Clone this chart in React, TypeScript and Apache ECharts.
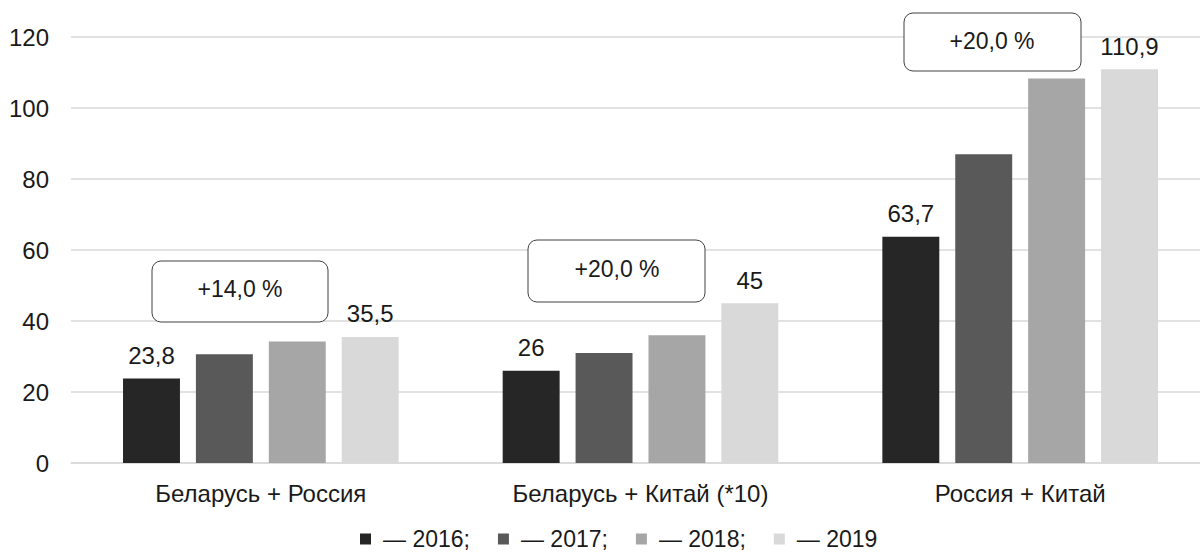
import React, { useEffect, useRef } from "react";
import * as echarts from "echarts";

const categories = ["Беларусь + Россия", "Беларусь + Китай (*10)", "Россия + Китай"];
const years = ["2016", "2017", "2018", "2019"];
const legendLabels = ["— 2016;", "— 2017;", "— 2018;", "— 2019"];
const values2016 = [23.8, 26, 63.7];
const values2017 = [30.6, 31, 87.0];
const values2018 = [34.2, 36, 108.3];
const values2019 = [35.5, 45, 110.9];
const seriesValues = [values2016, values2017, values2018, values2019];
const labeledYears = ["2016", "2019"];
const colors = ["#262626", "#595959", "#a6a6a6", "#d9d9d9"];
const growthTexts = ["+14,0 %", "+20,0 %", "+20,0 %"];
const yTicks = { min: 0, max: 120, interval: 20 };

const FONT = "'Liberation Sans', Arial, sans-serif";

export default function App() {
  const ref = useRef<HTMLDivElement>(null);
  useEffect(() => {
    document.body.style.margin = "0";
    if (!ref.current) return;
    const chart = echarts.init(ref.current, null, { renderer: "svg" });
    const boxes = [
      { x: 152, y: 261, w: 176, h: 61, tx: 240, ty: 289 },
      { x: 528, y: 240, w: 177, h: 62, tx: 617, ty: 269 },
      { x: 904, y: 13, w: 177, h: 58, tx: 992, ty: 41 },
    ];
    const graphic: any[] = [];
    boxes.forEach((b, i) => {
      graphic.push({
        type: "rect",
        shape: { x: b.x, y: b.y, width: b.w, height: b.h, r: 9 },
        style: { fill: "#ffffff", stroke: "#404040", lineWidth: 1 },
        z: 10,
      });
      graphic.push({
        type: "text",
        x: b.tx,
        y: b.ty,
        style: {
          text: growthTexts[i],
          fill: "#1a1a1a",
          font: `23px ${FONT}`,
          textAlign: "center",
          textVerticalAlign: "middle",
        },
        z: 11,
      });
    });
    chart.setOption({
      animation: false,
      textStyle: { fontFamily: FONT },
      grid: { left: 71, top: 37, width: 1139, height: 426, containLabel: false },
      legend: {
        left: 360,
        top: 526,
        itemWidth: 11,
        itemHeight: 11,
        itemGap: 28,
        icon: "rect",
        padding: 0,
        data: years,
        formatter: (name: string) => legendLabels[years.indexOf(name)],
        textStyle: {
          fontSize: 23,
          lineHeight: 26,
          color: "#1a1a1a",
          fontFamily: FONT,
          padding: [0, 0, 0, 7],
        },
      },
      xAxis: {
        type: "category",
        data: categories,
        axisTick: { show: false },
        axisLine: { lineStyle: { color: "#d9d9d9", width: 1.5 } },
        axisLabel: { fontSize: 24, color: "#1a1a1a", margin: 18, fontFamily: FONT },
      },
      yAxis: {
        type: "value",
        min: yTicks.min,
        max: yTicks.max,
        interval: yTicks.interval,
        axisLine: { show: false },
        axisTick: { show: false },
        axisLabel: { fontSize: 24, color: "#1a1a1a", margin: 22, fontFamily: FONT },
        splitLine: { lineStyle: { color: "#d9d9d9", width: 1.5 } },
      },
      series: years.map((y, i) => ({
        name: y,
        type: "bar",
        data: seriesValues[i],
        barWidth: "15%",
        barGap: "28%",
        itemStyle: { color: colors[i] },
        label: {
          show: labeledYears.includes(y),
          position: "top",
          distance: 11,
          fontSize: 24,
          color: "#1a1a1a",
          fontFamily: FONT,
          formatter: (p: any) => String(p.value).replace(".", ","),
        },
      })),
      graphic,
    });
    return () => chart.dispose();
  }, []);
  return (
    <div style={{ width: 1200, height: 552, overflow: "hidden", position: "relative" }}>
      <div ref={ref} style={{ width: 1220, height: 552 }} />
    </div>
  );
}
